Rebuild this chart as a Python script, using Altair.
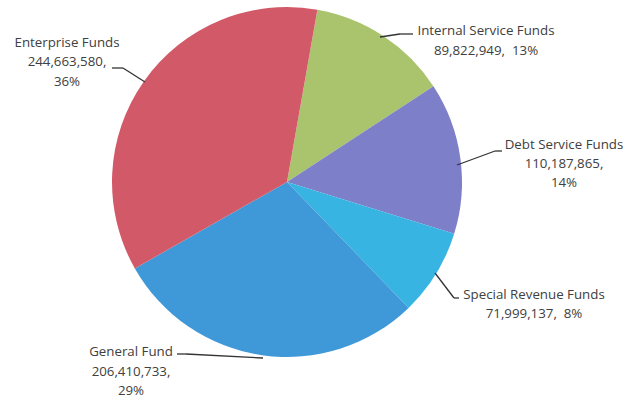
import altair as alt
import pandas as pd
import math

# ---- data ----
funds = ["Internal Service Funds", "Debt Service Funds", "Special Revenue Funds",
         "General Fund", "Enterprise Funds"]
amounts = [89822949, 110187865, 71999137, 206410733, 244663580]
percents = [13, 14, 8, 29, 36]
colors = ["#a9c46c", "#7d80c9", "#38b4e2", "#3f98d8", "#d25a68"]

df = pd.DataFrame({
    "fund": funds,
    "amount": amounts,
    "pct": percents,
    "order": list(range(len(funds))),
})

NB = "\u00a0"
# ---- label layout (annotation positions, pixels) ----
label_lines = {
    "Internal Service Funds": [("Internal Service Funds", 486, 31), ("89,822,949," + NB + NB + "13%", 486, 51)],
    "Debt Service Funds": [("Debt Service Funds", 564, 145), ("110,187,865,", 564, 164), ("14%", 564, 183)],
    "Special Revenue Funds": [("Special Revenue Funds", 534, 295), ("71,999,137," + NB + NB + "8%", 534, 314)],
    "General Fund": [("General Fund", 131, 352), ("206,410,733,", 131, 372), ("29%", 131, 391)],
    "Enterprise Funds": [("Enterprise Funds", 67, 43), ("244,663,580,", 67, 62), ("36%", 67, 82)],
}
leader_paths = {
    "Internal Service Funds": [(380, 37), (400, 34), (413, 34)],
    "Debt Service Funds": [(457, 165), (495, 151), (502, 151)],
    "Special Revenue Funds": [(435, 273), (454, 298), (459, 298)],
    "General Fund": [(263, 358), (186, 354), (177, 354)],
    "Enterprise Funds": [(145, 82), (123, 68), (112, 68)],
}

text_rows = []
for f in funds:
    for t, x, y in label_lines[f]:
        text_rows.append({"fund": f, "text": t, "x": x, "y": y})
text_df = pd.DataFrame(text_rows)

line_rows = []
for f in funds:
    pts = leader_paths[f]
    for (x1, y1), (x2, y2) in zip(pts[:-1], pts[1:]):
        line_rows.append({"fund": f, "x": x1, "y": y1, "x2": x2, "y2": y2})
line_df = pd.DataFrame(line_rows)

W, H = 626, 400
start = 0.1745  # ~10 degrees clockwise from 12 o'clock

pie = alt.Chart(df).mark_arc(outerRadius=175).encode(
    theta=alt.Theta("pct:Q", stack=True,
                    scale=alt.Scale(range=[start, start + 2 * math.pi])),
    color=alt.Color("fund:N", scale=alt.Scale(domain=funds, range=colors), legend=None),
    order=alt.Order("order:Q"),
    x=alt.value(287),
    y=alt.value(182),
)

xs = alt.Scale(domain=[0, W], range=[0, W])
ys = alt.Scale(domain=[0, H], range=[0, H])

leaders = alt.Chart(line_df).mark_rule(color="#333333", strokeWidth=1.3).encode(
    x=alt.X("x:Q", scale=xs, axis=None),
    y=alt.Y("y:Q", scale=ys, axis=None),
    x2="x2:Q",
    y2="y2:Q",
)

labels = alt.Chart(text_df).mark_text(
    font="Open Sans", fontSize=13.3, color="#404040", align="center", baseline="middle"
).encode(
    x=alt.X("x:Q", scale=xs, axis=None),
    y=alt.Y("y:Q", scale=ys, axis=None),
    text="text:N",
)

chart = alt.layer(pie, leaders, labels).resolve_scale(
    x="shared", y="shared"
).properties(
    width=W, height=H, autosize=alt.AutoSizeParams(type="none"), padding=0,
    background="white",
).configure_view(stroke=None)

chart.save("out.html", embed_options={"renderer": "svg", "actions": False})
